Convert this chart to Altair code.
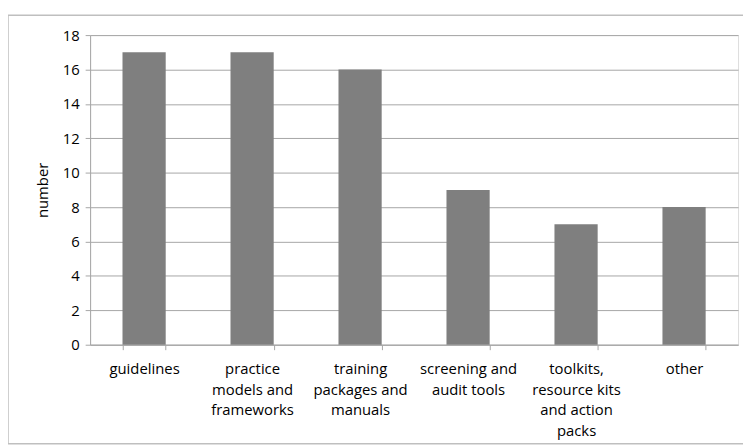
import altair as alt
import pandas as pd

categories = [
    "guidelines",
    "practice models and frameworks",
    "training packages and manuals",
    "screening and audit tools",
    "toolkits, resource kits and action packs",
    "other",
]
label_lines = [
    ["guidelines"],
    ["practice", "models and", "frameworks"],
    ["training", "packages and", "manuals"],
    ["screening and", "audit tools"],
    ["toolkits,", "resource kits", "and action", "packs"],
    ["other"],
]
values = [17, 17, 16, 9, 7, 8]

df = pd.DataFrame({"category": categories, "value": values})

label_expr = "{" + ", ".join(
    '"%s": %s' % (c, "[" + ", ".join('"%s"' % l for l in ls) + "]")
    for c, ls in zip(categories, label_lines)
) + "}[datum.value]"

W, H = 655, 313
FONT = "Open Sans"
FS = 15
GRID = "#a6a6a6"

bars = alt.Chart(df).mark_bar(color="#7f7f7f").encode(
    x=alt.X(
        "category:N",
        sort=categories,
        scale=alt.Scale(paddingInner=0.6, paddingOuter=0.3),
        axis=alt.Axis(
            title=None,
            labelAngle=0,
            labelExpr=label_expr,
            labelFont=FONT,
            labelFontSize=FS,
            labelColor="#000000",
            labelLineHeight=21,
            labelPadding=12,
            tickBand="extent",
            tickSize=5,
            tickColor=GRID,
            domainColor=GRID,
            grid=False,
            labelLimit=200,
        ),
    ),
    y=alt.Y(
        "value:Q",
        scale=alt.Scale(domain=[0, 18]),
        axis=alt.Axis(
            title="number",
            titleFont=FONT,
            titleFontSize=FS,
            titleFontWeight="normal",
            titleColor="#000000",
            titlePadding=12,
            values=list(range(0, 19, 2)),
            labelFont=FONT,
            labelFontSize=FS,
            labelColor="#000000",
            labelPadding=6,
            tickSize=5,
            tickColor=GRID,
            domainColor=GRID,
            grid=True,
            gridColor=GRID,
            gridWidth=1,
        ),
    ),
)

frame = alt.Chart(pd.DataFrame({"a": [0]})).mark_rect(
    fill=None, stroke="#bfbfbf", strokeWidth=1.5
).encode(
    x=alt.value(-83), x2=alt.value(W + 20),
    y=alt.value(-20), y2=alt.value(H + 100),
)

chart = alt.layer(frame, bars).properties(
    width=W,
    height=H,
    autosize=alt.AutoSizeParams(type="none"),
    padding={"left": 83, "top": 25, "right": 5, "bottom": 100},
).configure_view(stroke=None).configure(background="white")

chart.save("out.html", embed_options={"renderer": "svg", "actions": False})
